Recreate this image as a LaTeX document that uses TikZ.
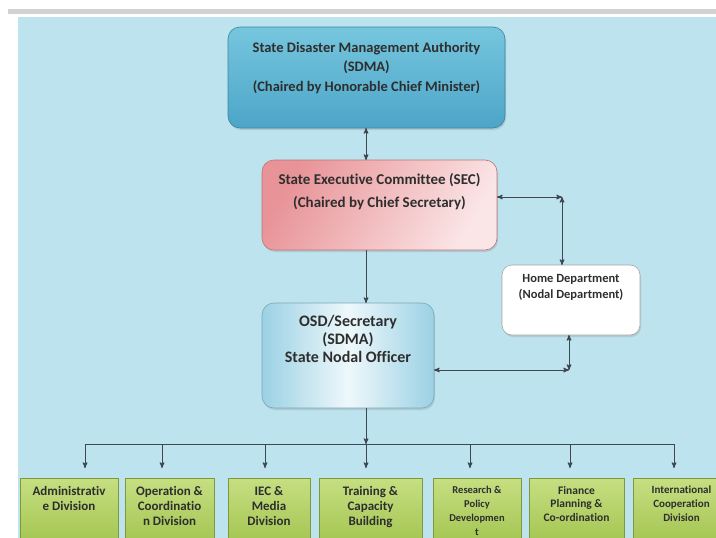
\documentclass[tikz,border=0pt]{standalone}
\usepackage{fontspec}
\setmainfont[Ligatures=NoCommon]{Carlito}
\usetikzlibrary{arrows}
\usetikzlibrary{shadows}
\usepackage{xcolor}
\definecolor{bgblue}{HTML}{BDE3EE}
\definecolor{sdmatop}{HTML}{76C6DE}
\definecolor{sdmabot}{HTML}{4CA5C7}
\definecolor{secdark}{HTML}{E89397}
\definecolor{seclight}{HTML}{FBE6E7}
\definecolor{osdside}{HTML}{9BD1E4}
\definecolor{osdmid}{HTML}{EEF8FB}
\definecolor{divtop}{HTML}{C6DF82}
\definecolor{divbot}{HTML}{9CBF46}
\definecolor{txtgray}{HTML}{2E2E2E}
\definecolor{linegray}{HTML}{3E4650}

\begin{document}
\begin{tikzpicture}[x=1pt,y=-1pt,>=stealth',
  orgbox/.style={rounded corners=12pt, draw=#1, line width=.6pt, outer sep=0pt, inner sep=0pt,
    drop shadow={opacity=.25, shadow xshift=1pt, shadow yshift=-2pt}},
  divbox/.style={draw=divbot!80!black, line width=.4pt, anchor=north, outer sep=0pt, inner sep=0pt,
    top color=divtop, bottom color=divbot, minimum height=80},
  txt/.style={anchor=north, align=center, inner sep=0pt, text=txtgray},
  con/.style={draw=linegray, line width=1pt}]
\clip (0,0) rectangle (716,538);
\fill[white] (0,0) rectangle (716,538);
\fill[gray!35] (8,9) rectangle (716,14);
\fill[bgblue] (18,17) rectangle (716,538);
% top of the chart
\node[orgbox=sdmabot!80!black, minimum width=277, minimum height=101, top color=sdmatop, bottom color=sdmabot,
  label={[txt, yshift=-15pt, font=\bfseries\fontsize{14.5}{19.5}\selectfont]north:State Disaster Management Authority\\(SDMA)\\(Chaired by Honorable Chief Minister)}]
  (sdma) at (366.5,77.5) {};
\node[orgbox=secdark!80!black, minimum width=235, minimum height=90, left color=secdark, right color=seclight, shading angle=60,
  label={[txt, yshift=-13pt, font=\bfseries\fontsize{15}{23}\selectfont]north:State Executive Committee (SEC)\\(Chaired by Chief Secretary)}]
  (sec) at (379.5,205) {};
\node[orgbox=gray!70, rounded corners=10pt, minimum width=138, minimum height=70, fill=white,
  label={[txt, yshift=-9pt, font=\bfseries\fontsize{12.5}{16}\selectfont]north:Home Department\\(Nodal Department)}]
  (home) at (571,300) {};
\node[orgbox=osdside!80!black, minimum width=172, minimum height=105, left color=osdside, right color=osdside, middle color=osdmid,
  label={[txt, yshift=-12pt, font=\bfseries\fontsize{16}{18}\selectfont]north:OSD/Secretary\\(SDMA)\\State Nodal Officer}]
  (osd) at (348,355.5) {};
\coordinate (c1) at (562,197);
\coordinate (c2) at (569,370);
\coordinate (bus) at (366,444);
\draw[con,<->] (sdma.south -| bus) -- (sec.north -| bus);
\draw[con,->] (sec.south -| bus) -- (osd.north -| bus);
\draw[con,<->] ([yshift=8pt]sec.east) -- (c1);
\draw[con,<->] (c1) -- (c1 |- home.north);
\draw[con,<->] (c2 |- home.south) -- (c2);
\draw[con,<->] (c2) -- (c2 -| osd.east);
\draw[con,->] (osd.south -| bus) -- (bus);
% divisions
\foreach \xa/\xb/\xd/\fs/\ls/\txt [count=\i] in {
  20/118/85/13/15/{Administrativ\\e Division},
  125/214/162/13/15/{Operation \&\\Coordinatio\\n Division},
  228/310/265/13/15/{IEC \&\\Media\\Division},
  319/422/366/13/15/{Training \&\\Capacity\\Building},
  433/521/470/10.5/14/{Research \&\\Policy\\Developmen\\t},
  529/624/570/11.5/13.5/{Finance\\Planning \&\\Co-ordination},
  633/730/674/11/14/{International\\Cooperation\\Division}} {
 \node[divbox, minimum width=\xb-\xa,
   label={[txt, yshift=-8pt, font=\bfseries\fontsize{\fs}{\ls}\selectfont]north:\txt}]
   (d\i) at ({(\xa+\xb)/2},478) {};
 \coordinate (b\i) at (\xd,444);
 \draw[con,->,shorten >=10pt] (b\i) -- (b\i |- d\i.north);
}
\draw[con] (b1) -- (b7);
\end{tikzpicture}
\end{document}
